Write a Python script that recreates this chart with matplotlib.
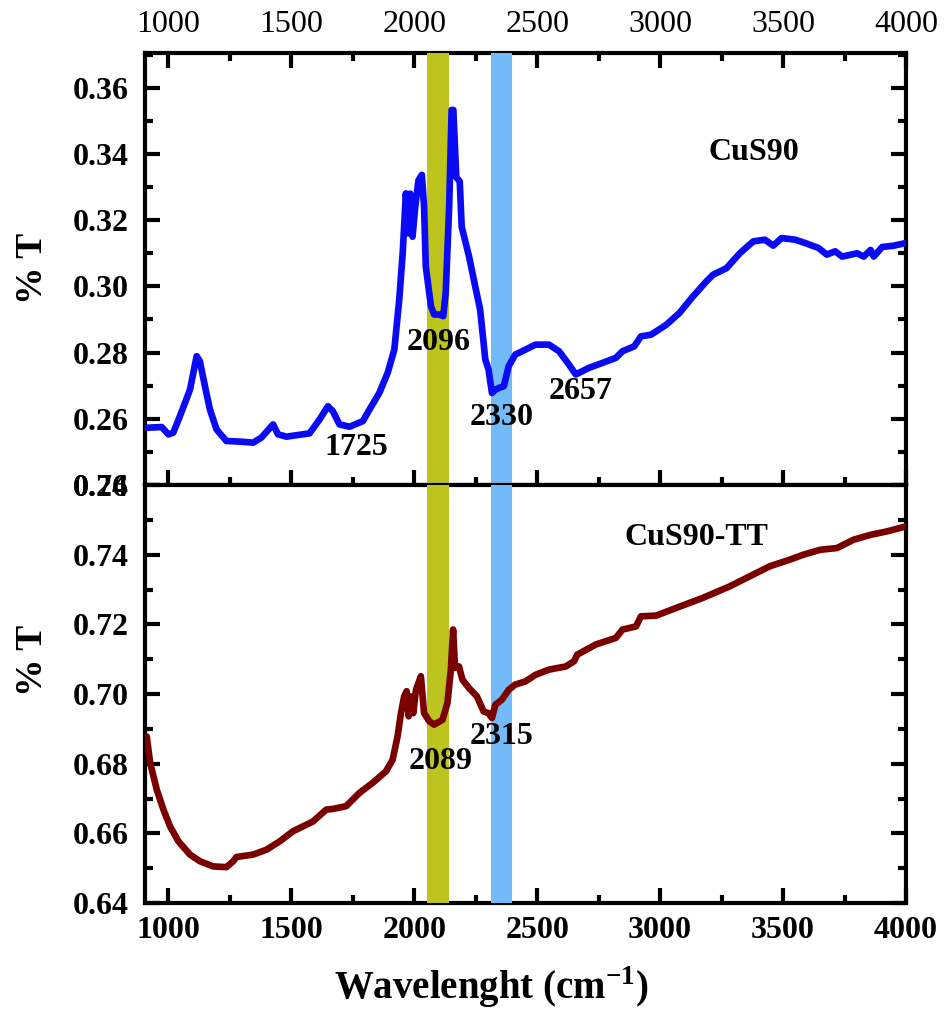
import matplotlib
matplotlib.use("Agg")
import matplotlib.pyplot as plt
from matplotlib.ticker import MultipleLocator, FixedLocator

plt.rcParams['font.family'] = ['Liberation Serif', 'DejaVu Serif']
plt.rcParams['mathtext.fontset'] = 'custom'
plt.rcParams['mathtext.rm'] = 'Liberation Serif'
plt.rcParams['mathtext.bf'] = 'Liberation Serif:bold'

# ---------------- data ----------------
cus90_x = [912, 973, 1000, 1020, 1047, 1088, 1115, 1128, 1149, 1169, 1196, 1236, 1291, 1345,
           1378, 1426, 1446, 1480, 1574, 1615, 1649, 1669, 1696, 1737, 1791, 1818, 1858, 1892,
           1919, 1939, 1953, 1966, 1977, 1984, 1993, 2004, 2017, 2031, 2040, 2047, 2068, 2081,
           2101, 2118, 2128, 2142, 2152, 2159, 2171, 2185, 2193, 2223, 2248, 2268, 2289, 2302,
           2316, 2330, 2343, 2364, 2384, 2411, 2439, 2493, 2548, 2589, 2629, 2657, 2711, 2766,
           2820, 2847, 2895, 2922, 2963, 3025, 3079, 3134, 3188, 3215, 3270, 3324, 3379, 3426,
           3460, 3494, 3549, 3590, 3644, 3678, 3712, 3740, 3801, 3828, 3856, 3869, 3903, 3951,
           3999]
cus90_y = [0.2573, 0.2575, 0.2553, 0.2558, 0.2608, 0.2688, 0.2789, 0.2774, 0.2698, 0.2628,
           0.2568, 0.2533, 0.2531, 0.2528, 0.2543, 0.2583, 0.2553, 0.2546, 0.2556, 0.2598,
           0.2638, 0.2623, 0.2583, 0.2576, 0.2593, 0.2628, 0.2678, 0.2739, 0.2809, 0.2960,
           0.3100, 0.3281, 0.3160, 0.3280, 0.3150, 0.3240, 0.3320, 0.3337, 0.3240, 0.3060,
           0.2940, 0.2915, 0.2915, 0.2910, 0.2980, 0.3240, 0.3533, 0.3533, 0.3330, 0.3317,
           0.3180, 0.3090, 0.3000, 0.2930, 0.2779, 0.2749, 0.2678, 0.2688, 0.2693, 0.2698,
           0.2759, 0.2794, 0.2804, 0.2824, 0.2824, 0.2804, 0.2764, 0.2734, 0.2754, 0.2769,
           0.2784, 0.2804, 0.2819, 0.2849, 0.2854, 0.2884, 0.2920, 0.2970, 0.3015, 0.3035,
           0.3055, 0.3100, 0.3136, 0.3141, 0.3123, 0.3146, 0.3141, 0.3131, 0.3116, 0.3096,
           0.3106, 0.3090, 0.3100, 0.3090, 0.3110, 0.3090, 0.3119, 0.3123, 0.3131]

cus90tt_x = [912, 926, 953, 980, 1007, 1041, 1088, 1128, 1182, 1236, 1264, 1277, 1345, 1399,
             1453, 1507, 1588, 1642, 1669, 1723, 1777, 1831, 1885, 1912, 1932, 1946, 1959,
             1969, 1977, 1986, 1996, 2007, 2027, 2040, 2061, 2081, 2115, 2135, 2149, 2158,
             2166, 2182, 2196, 2223, 2255, 2282, 2302, 2316, 2330, 2357, 2384, 2411, 2452,
             2493, 2548, 2616, 2650, 2663, 2738, 2820, 2847, 2902, 2922, 2984, 3065, 3174,
             3283, 3379, 3447, 3529, 3583, 3651, 3719, 3787, 3856, 3924, 3999]
cus90tt_y = [0.6878, 0.6802, 0.6725, 0.6668, 0.6620, 0.6577, 0.6539, 0.6520, 0.6505, 0.6503,
             0.6520, 0.6532, 0.6539, 0.6553, 0.6577, 0.6606, 0.6634, 0.6668, 0.6670, 0.6678,
             0.6716, 0.6745, 0.6778, 0.6811, 0.6878, 0.6945, 0.6993, 0.7008, 0.6936, 0.6993,
             0.6945, 0.7012, 0.7051, 0.6945, 0.6922, 0.6912, 0.6926, 0.6974, 0.7070, 0.7185,
             0.7075, 0.7079, 0.7041, 0.7017, 0.6993, 0.6950, 0.6945, 0.6931, 0.6969, 0.6984,
             0.7012, 0.7027, 0.7036, 0.7055, 0.7070, 0.7079, 0.7094, 0.7113, 0.7142, 0.7161,
             0.7185, 0.7194, 0.7223, 0.7225, 0.7247, 0.7276, 0.7309, 0.7343, 0.7367, 0.7386,
             0.7400, 0.7414, 0.7419, 0.7443, 0.7457, 0.7467, 0.7481]

band_olive = (2053, 2142)
band_blue = (2313, 2398)

top_labels = ["1725", "2096", "2330", "2657"]
top_label_x = [1764, 2098, 2354, 2675]
top_label_y = [0.2513, 0.2830, 0.2604, 0.2682]

bot_labels = ["2089", "2315"]
bot_label_x = [2106, 2354]
bot_label_y = [0.6806, 0.6878]

x_ticks = [1000, 1500, 2000, 2500, 3000, 3500, 4000]
top_yticks = [0.24, 0.26, 0.28, 0.30, 0.32, 0.34, 0.36]
bot_yticks = [0.64, 0.66, 0.68, 0.70, 0.72, 0.74, 0.76]

# ---------------- figure ----------------
fig = plt.figure(figsize=(9.47, 10.09), dpi=100)
L, R = 145 / 947, 906 / 947
ax1 = fig.add_axes([L, 1 - 485 / 1009, R - L, (485 - 53) / 1009])
ax2 = fig.add_axes([L, 1 - 903 / 1009, R - L, (903 - 485) / 1009])

tick_fs = 23
ann_fs = 23
for ax in (ax1, ax2):
    ax.set_xlim(905, 4000)
    for s in ax.spines.values():
        s.set_linewidth(3)
    ax.xaxis.set_major_locator(FixedLocator(x_ticks))
    ax.xaxis.set_minor_locator(MultipleLocator(250))
    ax.yaxis.set_minor_locator(MultipleLocator(0.01))
    ax.axvspan(*band_olive, color='#bdc41d', zorder=2.6, lw=0)
    ax.axvspan(*band_blue, color='#72bbf8', zorder=2.6, lw=0)

ax1.plot(cus90_x, cus90_y, color='#0a0af5', lw=4.8, zorder=3,
         solid_joinstyle='round', solid_capstyle='round')
ax2.plot(cus90tt_x, cus90tt_y, color='#7a0000', lw=4.8, zorder=3,
         solid_joinstyle='round', solid_capstyle='round')

ax1.set_ylim(0.24, 0.3705)
ax1.set_yticks(top_yticks)
ax1.set_yticklabels([f"{v:.2f}" for v in top_yticks], fontweight='bold', fontsize=tick_fs)
ax1.tick_params(axis='x', which='both', direction='in', top=True, bottom=True,
                labeltop=True, labelbottom=False, labelsize=tick_fs, pad=10)
ax1.tick_params(axis='y', which='both', direction='in', left=True, right=True,
                labelsize=tick_fs, pad=12)

ax2.set_ylim(0.64, 0.76)
ax2.set_yticks(bot_yticks)
ax2.set_yticklabels([f"{v:.2f}" for v in bot_yticks], fontweight='bold', fontsize=tick_fs)
ax2.tick_params(axis='x', which='both', direction='in', top=False, bottom=True,
                labelsize=tick_fs, pad=9)
ax2.tick_params(axis='y', which='both', direction='in', left=True, right=True,
                labelsize=tick_fs, pad=12)
for lab in ax2.get_xticklabels():
    lab.set_fontweight('bold')

for ax in (ax1, ax2):
    ax.tick_params(which='major', length=11, width=3)
    ax.tick_params(which='minor', length=6, width=3)

for t, x, y in zip(top_labels, top_label_x, top_label_y):
    ax1.text(x, y, t, ha='center', va='center', fontsize=ann_fs, fontweight='bold', zorder=4)
ax1.text(3382, 0.3403, "CuS90", ha='center', va='center', fontsize=ann_fs, fontweight='bold')

for t, x, y in zip(bot_labels, bot_label_x, bot_label_y):
    ax2.text(x, y, t, ha='center', va='center', fontsize=ann_fs, fontweight='bold', zorder=4)
ax2.text(3146, 0.7449, "CuS90-TT", ha='center', va='center', fontsize=ann_fs, fontweight='bold')

fig.text(33 / 947, 1 - 268 / 1009, "% T", rotation=90, ha='center', va='center',
         fontsize=27, fontweight='bold')
fig.text(33 / 947, 1 - 660 / 1009, "% T", rotation=90, ha='center', va='center',
         fontsize=27, fontweight='bold')
fig.text(491 / 947, 1 - 999 / 1009, r"Wavelenght (cm$^{\mathbf{-1}}$)", ha='center',
         va='baseline', fontsize=28, fontweight='bold')

fig.savefig("out.png", dpi=100)
